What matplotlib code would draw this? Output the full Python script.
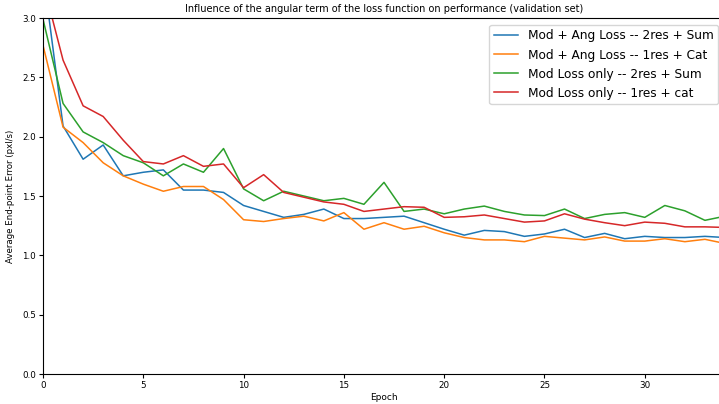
import matplotlib
matplotlib.use("Agg")
import matplotlib.pyplot as plt

epochs = list(range(35))

ang_2res_sum = [3.39, 2.09, 1.81, 1.93, 1.67, 1.70, 1.72, 1.55, 1.55, 1.53,
                1.42, 1.37, 1.32, 1.345, 1.39, 1.31, 1.31, 1.32, 1.33, 1.275,
                1.22, 1.17, 1.21, 1.20, 1.16, 1.18, 1.22, 1.15, 1.185, 1.14,
                1.16, 1.15, 1.15, 1.16, 1.15]
ang_1res_cat = [2.77, 2.08, 1.95, 1.78, 1.67, 1.60, 1.54, 1.58, 1.58, 1.47,
                1.30, 1.285, 1.31, 1.33, 1.29, 1.36, 1.22, 1.275, 1.22, 1.245,
                1.19, 1.15, 1.13, 1.13, 1.115, 1.16, 1.145, 1.13, 1.155, 1.12,
                1.12, 1.14, 1.115, 1.135, 1.10]
mod_2res_sum = [2.99, 2.28, 2.04, 1.95, 1.84, 1.78, 1.67, 1.77, 1.70, 1.90,
                1.56, 1.46, 1.54, 1.50, 1.46, 1.48, 1.43, 1.615, 1.37, 1.39,
                1.35, 1.39, 1.415, 1.37, 1.34, 1.335, 1.39, 1.31, 1.345, 1.36,
                1.32, 1.42, 1.375, 1.295, 1.33]
mod_1res_cat = [3.30, 2.645, 2.26, 2.17, 1.97, 1.79, 1.77, 1.84, 1.75, 1.77,
                1.57, 1.68, 1.53, 1.49, 1.45, 1.43, 1.37, 1.39, 1.41, 1.405,
                1.32, 1.325, 1.34, 1.31, 1.28, 1.29, 1.35, 1.305, 1.275, 1.25,
                1.28, 1.27, 1.24, 1.24, 1.235]

labels = ["Mod + Ang Loss -- 2res + Sum",
          "Mod + Ang Loss -- 1res + Cat",
          "Mod Loss only -- 2res + Sum",
          "Mod Loss only -- 1res + cat"]

W, H = 719, 404
fig = plt.figure(figsize=(W / 100, H / 100), dpi=100)
left, right, top, bottom = 43, 725, 18, 374
ax = fig.add_axes([left / W, (H - bottom) / H, (right - left) / W, (bottom - top) / H])

for series, label in zip([ang_2res_sum, ang_1res_cat, mod_2res_sum, mod_1res_cat], labels):
    ax.plot(epochs, series, label=label, linewidth=1.1)

ax.set_xlim(0, 34)
ax.set_ylim(0, 3.0)
ax.set_xticks([0, 5, 10, 15, 20, 25, 30])
ax.set_yticks([0.0, 0.5, 1.0, 1.5, 2.0, 2.5, 3.0])
ax.tick_params(labelsize=6.3, length=3, width=0.8, pad=2)
ax.set_xlabel("Epoch", fontsize=6.5, labelpad=2)
ax.set_ylabel("Average End-point Error (pxl/s)", fontsize=6.2, labelpad=5)
ax.set_title("Influence of the angular term of the loss function on performance (validation set)",
             fontsize=7.0, pad=4)
ax.legend(loc="upper right", fontsize=8.7, handlelength=2.0, borderaxespad=0.55)

fig.savefig("out.png", dpi=100)
